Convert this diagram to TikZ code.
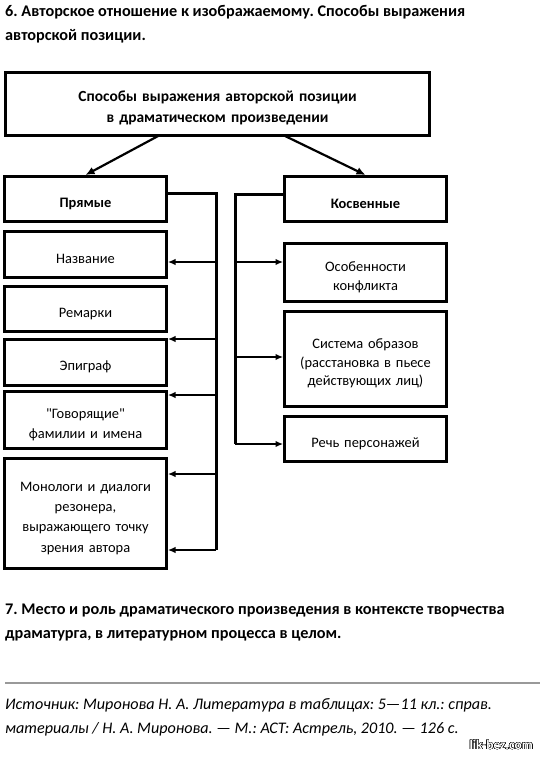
\documentclass[tikz,border=0pt]{standalone}
\usepackage{fontspec}
\setmainfont{Carlito}
\newfontfamily\plainfont{Carlito}
\usepackage{contour}
\usetikzlibrary{arrows.meta}
\frenchspacing
\newcommand{\qt}{{\plainfont"}}

\tikzset{
  box/.style={draw, line width=3bp, minimum width=162bp, text width=158bp,
    align=center, inner sep=0pt, font=\fontsize{14.5}{19.5}\selectfont,
    execute at begin node={\rule{0pt}{19bp}}},
  bus/.style={line width=3bp},
  arr/.style={line width=1.3bp, -{Latex[length=7.5bp,width=6.5bp]}},
  heading/.style={anchor=base west, inner sep=0pt, font=\bfseries\fontsize{16.3}{18}\selectfont}
}

\begin{document}
\begin{tikzpicture}[x=1bp,y=-1bp]
\useasboundingbox (0,0) rectangle (542,757);

% headings
\node[heading] (h1) at (5,17) {6. Авторское отношение к изображаемому. Способы выражения};
\node[heading] (h2) at (5,41) {авторской позиции.};

% main box
\node[box, minimum width=423bp, minimum height=63bp, text width=400bp,
  font=\bfseries\fontsize{15.5}{21}\selectfont] (main) at (217.5,104)
  {Способы выражения авторской позиции\\в драматическом произведении};

% left column
\node[box, minimum height=45bp, font=\bfseries\fontsize{14.5}{19}\selectfont] (pr) at (85.5,199) {Прямые};
\node[box, minimum height=46bp] (na) at (85.5,254.5) {Название};
\node[box, minimum height=45bp] (re) at (85.5,309) {Ремарки};
\node[box, minimum height=46bp] (ep) at (85.5,362.5) {Эпиграф};
\node[box, minimum height=57bp] (go) at (85.5,420) {\qt Говорящие\qt\\фамилии и имена};
\node[box, minimum height=110bp, font=\fontsize{14.5}{20.3}\selectfont] (mo) at (85.5,513.5)
  {Монологи и диалоги\\резонера,\\выражающего точку\\зрения автора};

% right column
\node[box, minimum height=45bp, font=\bfseries\fontsize{14.5}{19}\selectfont] (ko) at (365.5,199) {Косвенные};
\node[box, minimum height=58bp, font=\fontsize{14.5}{18.5}\selectfont] (os) at (365.5,272.5) {Особенности\\конфликта};
\node[box, minimum height=95bp, font=\fontsize{14.5}{18.5}\selectfont] (si) at (365.5,359)
  {Система образов\\(расстановка в пьесе\\действующих лиц)};
\node[box, minimum height=45bp] (rp) at (365.5,439) {Речь персонажей};

% arrows from the main box
\draw[line width=2.2bp, -{Latex[length=9bp,width=8bp]}] (160,135) -- (pr.north);
\draw[line width=2.2bp, -{Latex[length=9bp,width=8bp]}] (283,135) -- (ko.north);

% left bus
\coordinate (lt) at (216,193);
\coordinate (lb) at (216,550);
\draw[bus] (pr.east |- lt) -- (lt) -- (lb);
\foreach \y in {262,339,395,474,550}
  \draw[arr] (216,\y) -- (na.east |- 0,\y);

% right bus
\coordinate (rt) at (235,194);
\coordinate (rb) at (235,444);
\draw[bus] (ko.west |- rt) -- (rt) -- (rb);
\foreach \y in {262,357,444}
  \draw[arr] (235,\y) -- (os.west |- 0,\y);

% section 7
\node[heading] (h3) at (5,614) {7. Место и роль драматического произведения в контексте творчества};
\node[heading] (h4) at (5,638) {драматурга, в литературном процесса в целом.};

% source
\draw[line width=2bp, black!40] (5,683) -- (540,683);
\node[anchor=base west, inner sep=0pt, font=\itshape\fontsize{16.2}{18}\selectfont] (s1) at (5,709)
  {Источник: Миронова Н. А. Литература в таблицах: 5—11 кл.: справ.};
\node[anchor=base west, inner sep=0pt, font=\itshape\fontsize{16.2}{18}\selectfont] (s2) at (5,733)
  {материалы / Н. А. Миронова. — М.: АСТ: Астрель, 2010. — 126 с.};

% watermark
\node[anchor=east, inner sep=0pt, font=\bfseries\fontsize{13.5}{14}\selectfont] (wm) at (533,745)
  {\contour{black}{\textcolor{white}{lik-bez.com}}};
\end{tikzpicture}
\end{document}
